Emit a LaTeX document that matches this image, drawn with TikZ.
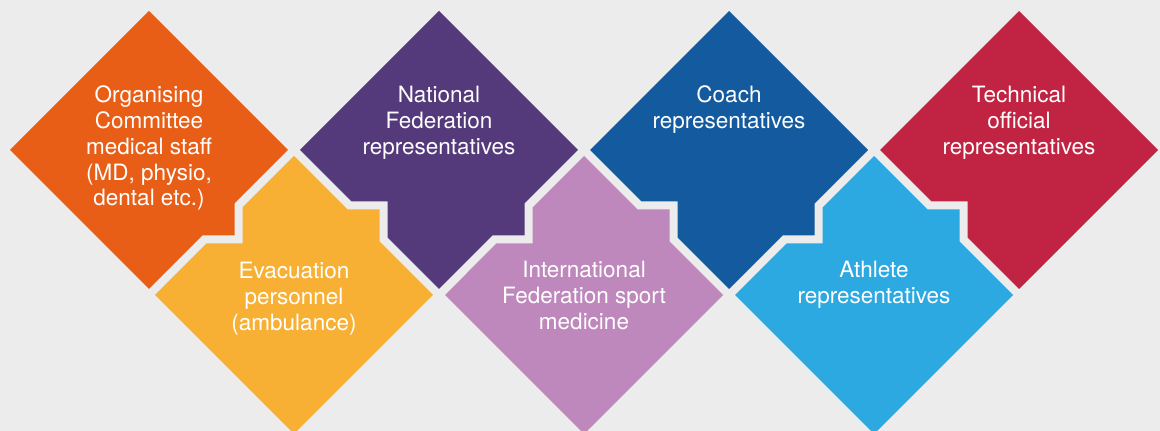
\documentclass[tikz,border=0pt]{standalone}
\usepackage{fontspec}
\setmainfont{TeX Gyre Heros}
\definecolor{bggray}{HTML}{ECECEC}
\definecolor{ocorange}{HTML}{E95E16}
\definecolor{evyellow}{HTML}{F7B034}
\definecolor{nfpurple}{HTML}{543A7B}
\definecolor{ifmauve}{HTML}{BE88BC}
\definecolor{cbblue}{HTML}{135A9E}
\definecolor{atblue}{HTML}{2DA9E1}
\definecolor{tocrimson}{HTML}{C12442}

\begin{document}
\begin{tikzpicture}[x=.025cm,y=-.025cm,
  lbl/.style={anchor=north,align=center,text=white,inner sep=0pt,
    font=\fontsize{16}{18.35}\selectfont}]
\useasboundingbox (0,0) rectangle (1160,431);
\fill[bggray] (0,0) rectangle (1160,431);
% top row
\fill[ocorange] (149,11) -- (288,150) -- (234.5,203.5) -- (234.5,235.5) -- (202.5,235.5) -- (149,289) -- (10,150) -- cycle;
\fill[nfpurple] (439,11) -- (578,150) -- (524.5,203.5) -- (524.5,235.5) -- (492.5,235.5) -- (439,289) -- (387.5,237.5) -- (387.5,201.5) -- (351.5,201.5) -- (300,150) -- cycle;
\fill[cbblue] (729,11) -- (868,150) -- (814.5,203.5) -- (814.5,235.5) -- (782.5,235.5) -- (729,289) -- (677.5,237.5) -- (677.5,201.5) -- (641.5,201.5) -- (590,150) -- cycle;
\fill[tocrimson] (1019,11) -- (1158,150) -- (1019,289) -- (967.5,237.5) -- (967.5,201.5) -- (931.5,201.5) -- (880,150) -- cycle;
% bottom row
\fill[evyellow] (294,156) -- (347.5,209.5) -- (379.5,209.5) -- (379.5,241.5) -- (433,295) -- (294,434) -- (155,295) -- (206.5,243.5) -- (242.5,243.5) -- (242.5,207.5) -- cycle;
\fill[ifmauve] (584,156) -- (637.5,209.5) -- (669.5,209.5) -- (669.5,241.5) -- (723,295) -- (584,434) -- (445,295) -- (496.5,243.5) -- (532.5,243.5) -- (532.5,207.5) -- cycle;
\fill[atblue] (874,156) -- (927.5,209.5) -- (959.5,209.5) -- (959.5,241.5) -- (1013,295) -- (874,434) -- (735,295) -- (786.5,243.5) -- (822.5,243.5) -- (822.5,207.5) -- cycle;
% labels
\node[lbl] (ocstaff) at (149,84.4) {\strut Organising\\Committee\\medical staff\\(MD, physio,\\dental etc.)};
\node[lbl] (nfreps) at (439,84.4) {\strut National\\Federation\\representatives};
\node[lbl] (coachreps) at (729,84.4) {\strut Coach\\representatives};
\node[lbl] (toreps) at (1019,84.4) {\strut Technical\\official\\representatives};
\node[lbl] (evac) at (294,260.4) {\strut Evacuation\\personnel\\(ambulance)};
\node[lbl] (ifmed) at (584,259.4) {\strut International\\Federation sport\\medicine};
\node[lbl] (athreps) at (874,259.4) {\strut Athlete\\representatives};
\end{tikzpicture}
\end{document}
